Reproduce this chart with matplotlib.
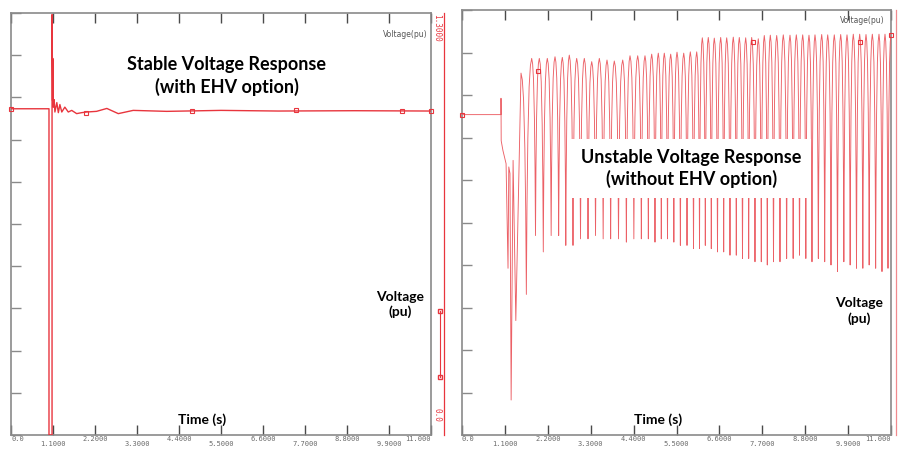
import numpy as np
import matplotlib.pyplot as plt
from matplotlib.lines import Line2D

# ---------------- data ----------------
x_ticks = [0.0, 1.1, 2.2, 3.3, 4.4, 5.5, 6.6, 7.7, 8.8, 9.9, 11.0]
x_tick_text = ['0.0', '1.1000', '2.2000', '3.3000', '4.4000', '5.5000',
               '6.6000', '7.7000', '8.8000', '9.9000', '11.000']
y_ticks = [0.0, 0.13, 0.26, 0.39, 0.52, 0.65, 0.78, 0.91, 1.04, 1.17, 1.3]

# stable case (with EHV option)
stable_t = [0.0, 0.995, 0.995, 1.075, 1.075, 1.09, 1.095, 1.11, 1.13, 1.15,
            1.20, 1.24, 1.28, 1.33, 1.41, 1.50, 1.59, 1.72, 1.85, 1.98,
            2.24, 2.51, 2.81, 3.20, 4.08, 5.5, 7.0, 9.0, 11.0]
stable_v = [1.005, 1.005, 0.0, 0.0, 1.295, 1.03, 1.16, 1.01, 1.033, 0.995,
            1.024, 0.993, 1.018, 0.995, 1.01, 0.995, 1.0, 0.99, 0.993, 0.995,
            0.997, 1.006, 0.99, 1.0, 0.997, 1.0, 0.998, 0.999, 0.998]
stable_mark_t = [0.0, 1.96, 4.74, 7.46, 10.24, 11.0]
stable_mark_v = [1.005, 0.993, 0.997, 1.0, 0.999, 0.998]

# unstable case (without EHV option): fault transient before the oscillation
fault_t = [0.0, 1.0, 1.0, 1.005, 1.05, 1.13, 1.18, 1.20, 1.23, 1.26, 1.31, 1.38]
fault_v = [0.98, 0.98, 1.03, 0.90, 0.87, 0.83, 0.51, 0.82, 0.80, 0.107, 0.84, 0.35]

peak_t = [1.513, 1.787, 1.982, 2.187, 2.385, 2.572, 2.751, 2.941, 3.136, 3.326,
          3.521, 3.718, 3.905, 4.121, 4.308, 4.505, 4.692, 4.864, 5.033, 5.187,
          5.351, 5.513, 5.685, 5.854, 6.018, 6.162, 6.315, 6.469, 6.633, 6.787,
          6.956, 7.110, 7.274, 7.428, 7.597, 7.751, 7.905, 8.069, 8.238, 8.410,
          8.572, 8.736, 8.897, 9.051, 9.223, 9.377, 9.546, 9.710, 9.872, 10.033,
          10.197, 10.359, 10.521, 10.692, 10.846, 11.0]
peak_v = [1.107, 1.152, 1.152, 1.152, 1.157, 1.155, 1.162, 1.152, 1.152, 1.142,
          1.152, 1.147, 1.144, 1.147, 1.160, 1.160, 1.160, 1.165, 1.168, 1.168,
          1.165, 1.171, 1.168, 1.172, 1.172, 1.215, 1.216, 1.214, 1.216, 1.215,
          1.217, 1.216, 1.215, 1.216, 1.212, 1.222, 1.223, 1.222, 1.224, 1.223,
          1.224, 1.224, 1.223, 1.224, 1.225, 1.224, 1.224, 1.225, 1.224, 1.226,
          1.226, 1.225, 1.226, 1.226, 1.226, 1.224]
trough_v = [0.43, 0.61, 0.56, 0.61, 0.61, 0.58, 0.58, 0.60, 0.60, 0.61,
            0.60, 0.60, 0.60, 0.59, 0.60, 0.60, 0.60, 0.59, 0.60, 0.60,
            0.59, 0.58, 0.58, 0.57, 0.57, 0.58, 0.57, 0.56, 0.56, 0.55,
            0.55, 0.54, 0.54, 0.53, 0.53, 0.52, 0.53, 0.53, 0.54, 0.54,
            0.55, 0.54, 0.53, 0.54, 0.53, 0.52, 0.50, 0.53, 0.52, 0.51,
            0.51, 0.52, 0.51, 0.50, 0.51]
unstable_mark_t = [0.0, 1.95, 7.46, 10.2, 11.0]
unstable_mark_v = [0.98, 1.113, 1.202, 1.202, 1.224]

# ---------------- style ----------------
red = '#e8353d'
wave_red = '#ec6066'
gray = '#8a8a8a'
tick_dark = '#4a4a4a'
title_font = 'Lato'
# drawing shape of one swing between two peaks (fraction of interval, level)
shape_f = [0.0, 0.12, 0.24, 0.36, 0.44, 0.5, 0.56, 0.64, 0.76, 0.88]
shape_l = [1.0, 0.97, 0.88, 0.66, 0.38, 0.0, 0.38, 0.66, 0.88, 0.97]


def swing_path(pt, pv, qv):
    ts, vs = [], []
    for i in range(len(qv)):
        t0, t1 = pt[i], pt[i + 1]
        for f, lvl in zip(shape_f, shape_l):
            p = pv[i] if f <= 0.5 else pv[i + 1]
            ts.append(t0 + f * (t1 - t0))
            vs.append(qv[i] + lvl * (p - qv[i]))
    ts.append(pt[-1])
    vs.append(pv[-1])
    return ts, vs


def style_axes(ax):
    ax.set_xlim(0, 11)
    ax.set_ylim(0, 1.3)
    for s in ax.spines.values():
        s.set_color(gray)
        s.set_linewidth(1.2)
    ax.set_xticks(x_ticks)
    lbls = [t if i % 2 == 0 else '\n' + t for i, t in enumerate(x_tick_text)]
    ax.set_xticklabels(lbls, fontsize=5.0, family='DejaVu Sans Mono', color='#6a6a6a')
    for i, lb in enumerate(ax.get_xticklabels()):
        lb.set_linespacing(0.72)
        if i == 0:
            lb.set_ha('left')
        elif i == len(x_ticks) - 1:
            lb.set_ha('right')
    ax.tick_params(axis='x', which='both', direction='in', length=7.5, width=1.0,
                   color=tick_dark, top=True, bottom=True, pad=0.8)
    ax.set_yticks(y_ticks)
    ax.set_yticklabels([])
    ax.tick_params(axis='y', direction='in', length=7.5, width=1.0, color=gray,
                   left=True, right=True)


fig = plt.figure(figsize=(8.99, 4.5), dpi=100)
ax1 = fig.add_axes([11 / 899, 15 / 450, 420 / 899, 422 / 450])
ax2 = fig.add_axes([462 / 899, 15 / 450, 429 / 899, 425 / 450])

# ---- left: stable
style_axes(ax1)
ax1.plot(stable_t, stable_v, color=red, lw=1.0, zorder=3)
ax1.plot(stable_mark_t, stable_mark_v, ls='none', marker='s', ms=3.2, mfc='none',
         mec=red, mew=0.8, clip_on=False, zorder=4)
ax1.text(0.514, 0.851, 'Stable Voltage Response\n(with EHV option)', transform=ax1.transAxes,
         ha='center', va='center', fontsize=13, fontweight='bold', family=title_font,
         linespacing=1.3)
ax1.text(0.455, 0.036, 'Time (s)', transform=ax1.transAxes, ha='center', va='center',
         fontsize=10, fontweight='bold', family=title_font)
ax1.text(0.926, 0.31, 'Voltage\n(pu)', transform=ax1.transAxes, ha='center', va='center',
         fontsize=10, fontweight='bold', family=title_font, linespacing=1.25)
ax1.text(0.938, 0.95, 'Voltage(pu)', transform=ax1.transAxes, ha='center', va='center',
         fontsize=5.5, color='#555555')

# red secondary axis of the plotting tool
tw1 = ax1.twinx()
tw1.set_ylim(0, 1.3)
tw1.set_yticks([])
for k in ['top', 'bottom', 'left']:
    tw1.spines[k].set_visible(False)
tw1.spines['right'].set_position(('outward', 9.4))
tw1.spines['right'].set_color(red)
tw1.spines['right'].set_linewidth(0.9)
fig.text(437 / 899, 1 - 28 / 450, '1.3000', rotation=-90, ha='center', va='center',
         fontsize=5.5, family='DejaVu Sans Mono', color=red)
fig.text(437 / 899, 1 - 415 / 450, '0.0', rotation=-90, ha='center', va='center',
         fontsize=5.5, family='DejaVu Sans Mono', color=red)
fig.add_artist(Line2D([440 / 899, 440 / 899], [1 - 311 / 450, 1 - 377 / 450], color=red,
                      lw=0.8, marker='s', ms=2.5, mfc='none', mec=red,
                      transform=fig.transFigure))

# ---- right: unstable
style_axes(ax2)
wt, wv = swing_path(peak_t, peak_v, trough_v)
ax2.plot(fault_t + wt, fault_v + wv, color=wave_red, lw=0.65, zorder=3)
ax2.plot(unstable_mark_t, unstable_mark_v, ls='none', marker='s', ms=3.2, mfc='none',
         mec=red, mew=0.8, clip_on=False, zorder=4)
ax2.text(0.534, 0.627, 'Unstable Voltage Response\n(without EHV option)', transform=ax2.transAxes,
         ha='center', va='center', fontsize=13, fontweight='bold', family=title_font,
         linespacing=1.3, zorder=6,
         bbox=dict(boxstyle='square,pad=0.55', fc='white', ec='none'))
ax2.text(0.457, 0.035, 'Time (s)', transform=ax2.transAxes, ha='center', va='center',
         fontsize=10, fontweight='bold', family=title_font)
ax2.text(0.925, 0.292, 'Voltage\n(pu)', transform=ax2.transAxes, ha='center', va='center',
         fontsize=10, fontweight='bold', family=title_font, linespacing=1.25)
ax2.text(0.932, 0.976, 'Voltage(pu)', transform=ax2.transAxes, ha='center', va='center',
         fontsize=5.5, color='#555555', zorder=6)

tw2 = ax2.twinx()
tw2.set_ylim(0, 1.3)
tw2.set_yticks([])
for k in ['top', 'bottom', 'left']:
    tw2.spines[k].set_visible(False)
tw2.spines['right'].set_position(('outward', 3.6))
tw2.spines['right'].set_color('#f08a8e')
tw2.spines['right'].set_linewidth(0.9)

fig.savefig('out.png', dpi=100)
